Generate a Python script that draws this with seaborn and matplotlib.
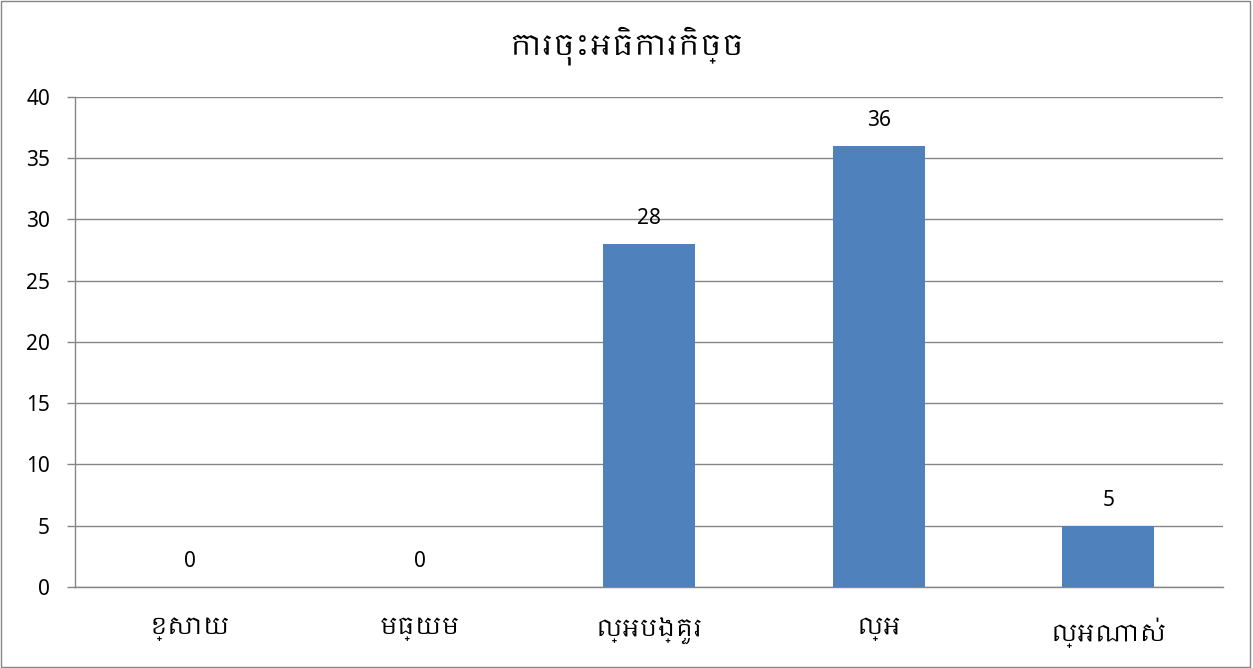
import matplotlib
matplotlib.use("Agg")
import matplotlib.pyplot as plt
import matplotlib.font_manager as fm
import seaborn as sns
import pandas as pd
from matplotlib.patches import Rectangle

# --- 데이터 ---
title = "ការចុះអធិការកិច្ច"
categories = ["ខ្សោយ", "មធ្យម", "ល្អបង្គួរ", "ល្អ", "ល្អណាស់"]
values = [0, 0, 28, 36, 5]
y_ticks = [0, 5, 10, 15, 20, 25, 30, 35, 40]

sns.set_theme(style="white")

# Khmer 글꼴이 있으면 먼저 사용
khmer = [f.name for f in fm.fontManager.ttflist if "khmer" in f.name.lower()]
families = sorted(set(khmer)) + ["Noto Sans", "DejaVu Sans"]
plt.rcParams["font.family"] = families
plt.rcParams["text.color"] = "black"
num_font = ["Noto Sans", "DejaVu Sans"]

df = pd.DataFrame({"cat": categories, "val": values})

fig = plt.figure(figsize=(12.53, 6.68), dpi=100)
ax = fig.add_axes([0.0599, 0.1213, 0.9162, 0.7335])

sns.barplot(data=df, x="cat", y="val", color="#4F81BD", width=0.4,
            saturation=1, linewidth=0, ax=ax, zorder=3)

ax.set_ylim(0, 40)
ax.set_xlim(-0.5, len(categories) - 0.5)
ax.set_yticks(y_ticks)
ax.set_yticklabels([str(t) for t in y_ticks], fontsize=15, family=num_font)
ax.yaxis.grid(True, color="#868686", linewidth=1, zorder=0)
ax.set_xlabel("")
ax.set_ylabel("")
ax.set_xticks(range(len(categories)))
ax.set_xticklabels(categories, fontsize=17)
ax.tick_params(axis="x", length=0, pad=22, labelcolor="black")
ax.set_xticks([i - 0.5 for i in range(len(categories) + 1)], minor=True)
ax.tick_params(axis="x", which="minor", length=6, color="#868686", width=1)
ax.tick_params(axis="y", length=6, color="#868686", width=1, left=True, pad=12,
               labelcolor="black")

for s in ["top", "right"]:
    ax.spines[s].set_visible(False)
for s in ["left", "bottom"]:
    ax.spines[s].set_color("#868686")
    ax.spines[s].set_linewidth(1)

for i, v in enumerate(values):
    ax.text(i, v + 1.2, str(v), ha="center", va="bottom", fontsize=15,
            family=num_font, color="black")

fig.suptitle(title, y=0.96, fontsize=21, color="black")

fig.patches.append(Rectangle((0.001, 0.001), 0.997, 0.997, transform=fig.transFigure,
                             fill=False, edgecolor="#868686", linewidth=1))

fig.savefig("out.png", dpi=100)
